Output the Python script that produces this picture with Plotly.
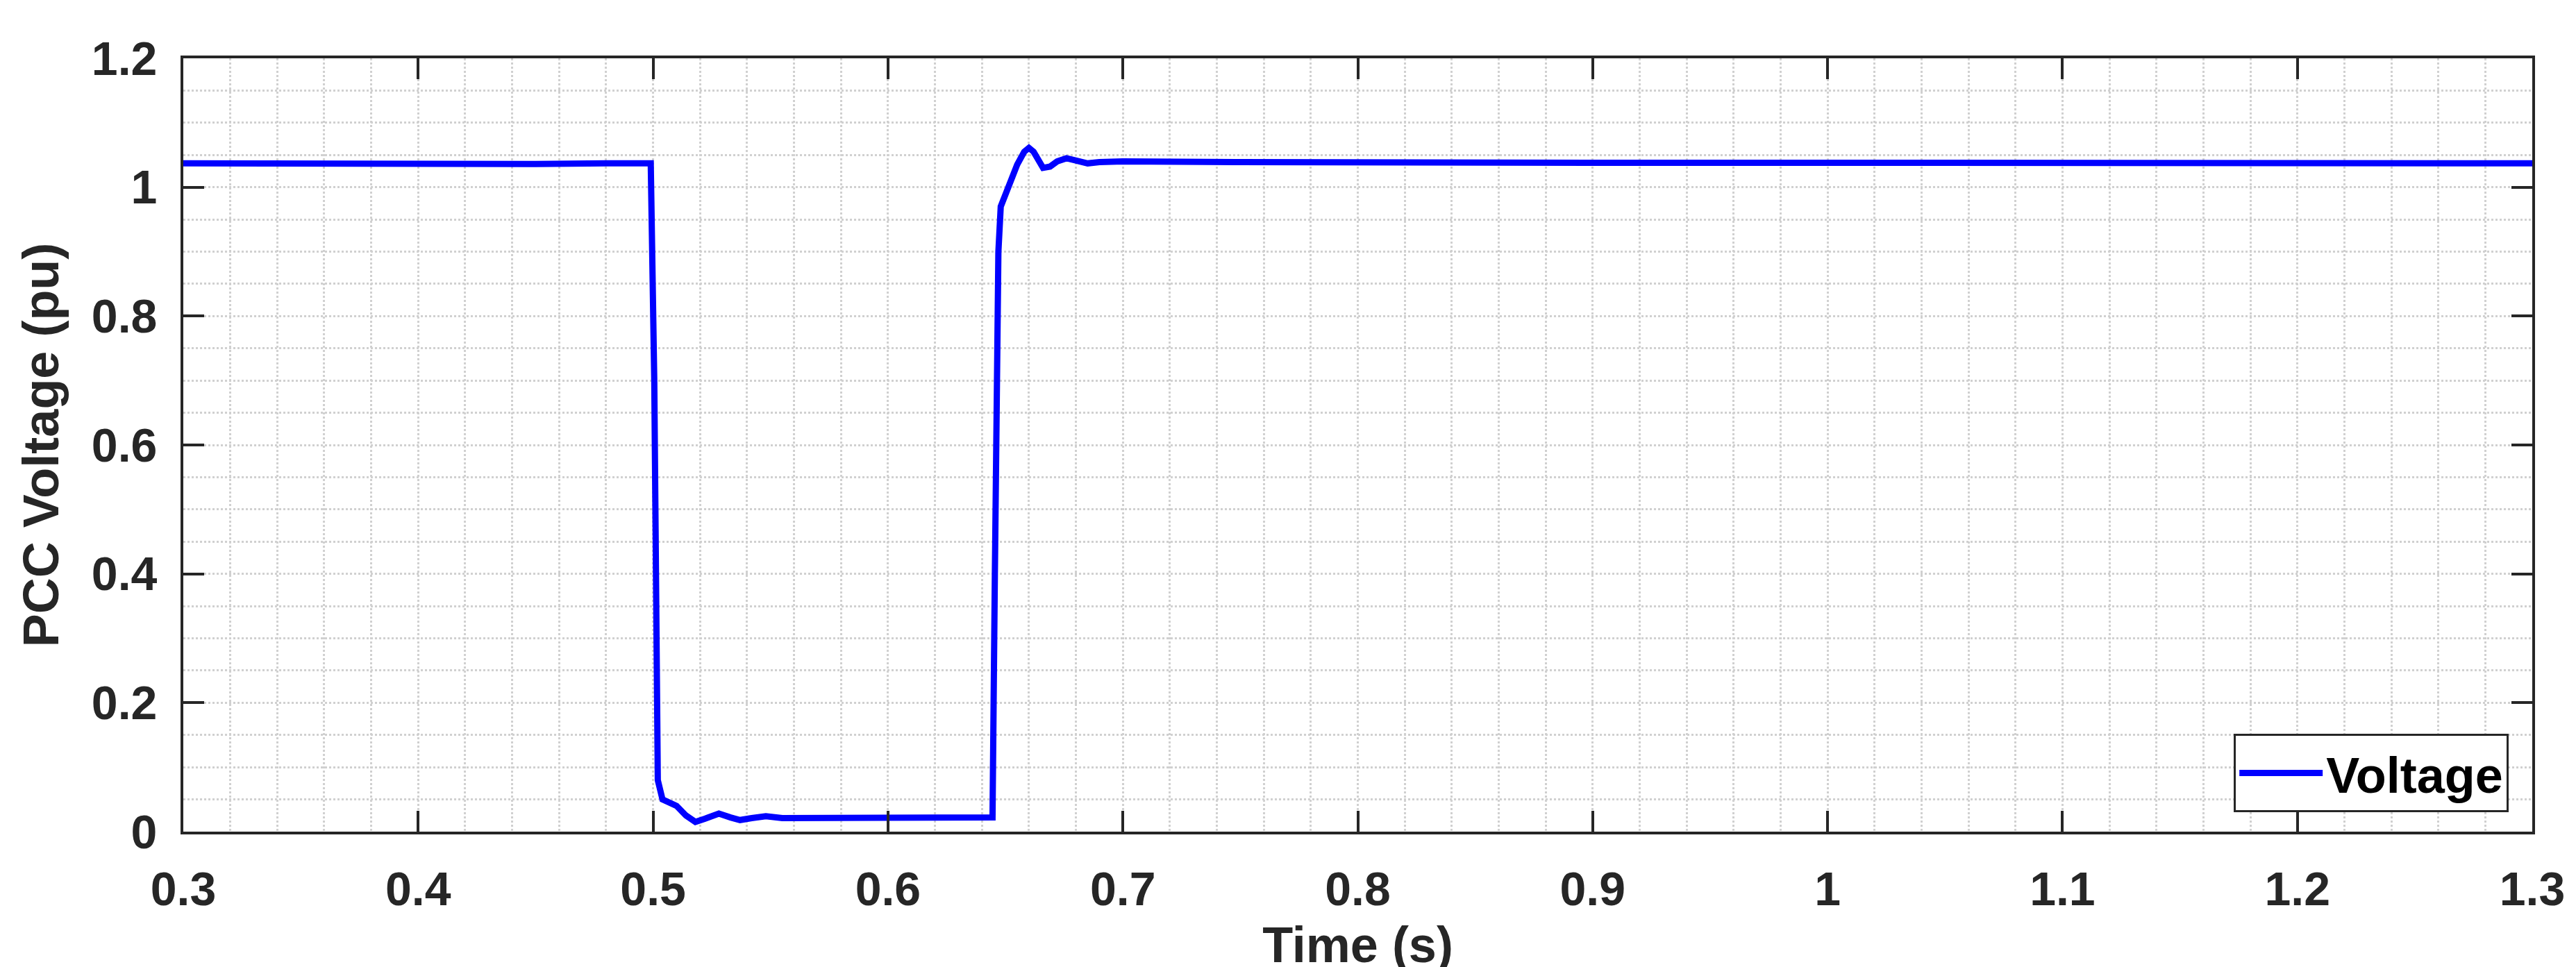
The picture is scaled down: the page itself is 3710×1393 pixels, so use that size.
import plotly.graph_objects as go

time_s = [0.30, 0.35, 0.40, 0.45, 0.48, 0.499, 0.5005, 0.5015, 0.502, 0.504, 0.507, 0.510, 0.514, 0.518, 0.522, 0.528, 0.533, 0.537, 0.542, 0.548, 0.555, 0.56, 0.60, 0.64, 0.6445,
          0.6455, 0.647, 0.648, 0.650, 0.652, 0.655, 0.658, 0.660, 0.662, 0.664, 0.666, 0.669, 0.672, 0.676, 0.680, 0.685, 0.69, 0.70, 0.75, 0.80, 0.90, 1.0, 1.1, 1.2, 1.25, 1.3]
voltage_pu = [1.037, 1.036, 1.037, 1.036, 1.037, 1.037, 0.70, 0.25, 0.08, 0.05, 0.045, 0.040, 0.025, 0.015, 0.020, 0.028, 0.022, 0.018, 0.021, 0.024, 0.021, 0.021, 0.021, 0.021, 0.022,
              0.40, 0.90, 0.97, 0.99, 1.01, 1.035, 1.055, 1.061, 1.055, 1.04, 1.03, 1.032, 1.040, 1.045, 1.042, 1.037, 1.039, 1.040, 1.039, 1.038, 1.038, 1.038, 1.038, 1.037, 1.036, 1.037]

fig = go.Figure(go.Scatter(x=time_s, y=voltage_pu, mode="lines", name="<b>Voltage</b>",
                           line=dict(color="#0000ff", width=9)))

FAM = "Liberation Sans, Arial"
tickfont = dict(family=FAM, size=68, color="#262626", weight="bold")
titlefont = dict(family=FAM, size=72, color="#262626", weight="bold")
grid = dict(showgrid=True, gridcolor="#d0d0d0", griddash="dot", gridwidth=3)
axis_common = dict(showline=True, linecolor="#262626", linewidth=4, mirror="ticks",
                   ticks="inside", ticklen=30, tickwidth=4, tickcolor="#262626",
                   zeroline=False, tickfont=tickfont, **grid)
fig.update_xaxes(range=[0.3, 1.3], dtick=0.1, tickformat="~g", ticklabelstandoff=20,
                 minor=dict(dtick=0.02, **grid),
                 title=dict(text="<b>Time (s)</b>", font=titlefont, standoff=20),
                 **axis_common)
fig.update_yaxes(range=[0, 1.2], dtick=0.2, tickformat="~g", ticklabelstandoff=20,
                 minor=dict(dtick=0.05, **grid),
                 title=dict(text="<b>PCC Voltage (pu)</b>", font=titlefont, standoff=25),
                 **axis_common)
fig.update_layout(
    width=3710, height=1393, plot_bgcolor="white", paper_bgcolor="white",
    font=dict(family=FAM, size=60, color="#262626"),
    margin=dict(l=256, r=71, t=76, b=203),
    showlegend=True,
    legend=dict(x=0.99, y=0.025, xanchor="right", yanchor="bottom",
                bordercolor="#262626", borderwidth=3, bgcolor="white",
                font=dict(family=FAM, size=72, color="black", weight="bold"),
                itemwidth=120),
)
fig.write_html("out.html")
